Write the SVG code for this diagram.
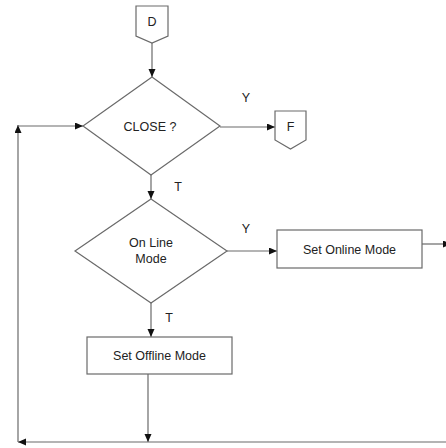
<svg xmlns="http://www.w3.org/2000/svg" width="446" height="448" viewBox="0 0 446 448">
  <style>
    .shape { fill: #ffffff; stroke: #6a6a6a; stroke-width: 1.2; }
    .edge { fill: none; stroke: #6a6a6a; stroke-width: 1.2; }
    .label { font-family: "Liberation Sans", Arial, sans-serif; font-size: 12.5px; fill: #222222; text-anchor: middle; }
  </style>
  <defs>
    <marker id="arrow" markerUnits="userSpaceOnUse" markerWidth="9" markerHeight="8" refX="8" refY="3.5" orient="auto">
      <path d="M0,0 L8,3.5 L0,7 z" fill="#111111"/>
    </marker>
  </defs>
  <rect width="446" height="448" fill="#ffffff"/>

  <!-- connectors -->
  <g id="connectors">
    <line class="edge" x1="152" y1="43" x2="152" y2="77" marker-end="url(#arrow)"/>
    <line class="edge" x1="220" y1="127" x2="275" y2="127" marker-end="url(#arrow)"/>
    <text class="label" x="246" y="102">Y</text>
    <line class="edge" x1="151" y1="175" x2="151" y2="199" marker-end="url(#arrow)"/>
    <text class="label" x="178" y="191">T</text>
    <line class="edge" x1="227" y1="251" x2="277" y2="251" marker-end="url(#arrow)"/>
    <text class="label" x="246" y="233">Y</text>
    <line class="edge" x1="151" y1="303" x2="151" y2="337" marker-end="url(#arrow)"/>
    <text class="label" x="169" y="322">T</text>
    <line class="edge" x1="422" y1="244" x2="451" y2="244" marker-end="url(#arrow)"/>
    <line class="edge" x1="148" y1="374" x2="148" y2="442" marker-end="url(#arrow)"/>
    <line class="edge" x1="446" y1="442" x2="18" y2="442" marker-end="url(#arrow)"/>
    <line class="edge" x1="18" y1="442" x2="18" y2="125" marker-end="url(#arrow)"/>
    <line class="edge" x1="18" y1="126" x2="83" y2="126" marker-end="url(#arrow)"/>
  </g>

  <g id="node-d">
    <polygon class="shape" points="136,6 168,6 168,36 152,43 136,36"/>
    <text class="label" x="152" y="26">D</text>
  </g>

  <g id="node-close">
    <polygon class="shape" points="152,77 220,126 151,175 83,126"/>
    <text class="label" x="150" y="131">CLOSE ?</text>
  </g>

  <g id="node-f">
    <polygon class="shape" points="275,111 306,111 306,140 290.5,149 275,140"/>
    <text class="label" x="290.5" y="131">F</text>
  </g>

  <g id="node-online">
    <polygon class="shape" points="151,199 227,251 151,303 75,251"/>
    <text class="label" x="151" y="247">On Line</text>
    <text class="label" x="151" y="263">Mode</text>
  </g>

  <g id="node-set-online">
    <rect class="shape" x="277" y="230" width="145" height="38"/>
    <text class="label" x="349.5" y="254">Set Online Mode</text>
  </g>

  <g id="node-set-offline">
    <rect class="shape" x="87" y="337" width="145" height="37"/>
    <text class="label" x="159.5" y="360">Set Offline Mode</text>
  </g>
</svg>
